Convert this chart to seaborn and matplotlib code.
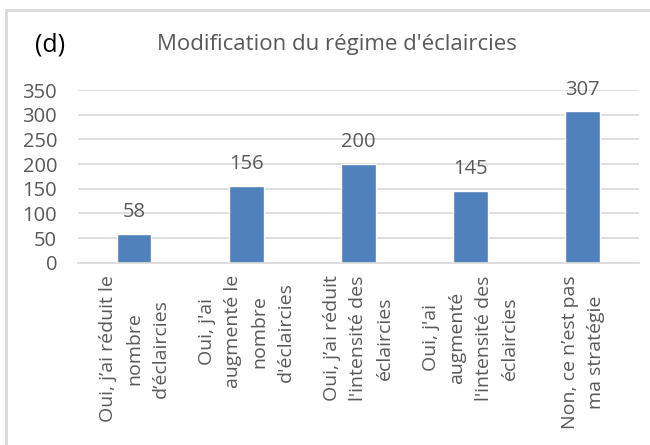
import matplotlib
matplotlib.use('Agg')
import matplotlib.pyplot as plt
import seaborn as sns
import pandas as pd
from matplotlib.lines import Line2D

categories = [
    "Oui, j’ai réduit le\nnombre\nd’éclaircies",
    "Oui, j'ai\naugmenté le\nnombre\nd'éclaircies",
    "Oui, j’ai réduit\nl'intensité des\néclaircies",
    "Oui, j'ai\naugmenté\nl'intensité des\néclaircies",
    "Non, ce n’est pas\nma stratégie",
]
counts = [58, 156, 200, 145, 307]
yticks = [0, 50, 100, 150, 200, 250, 300, 350]

df = pd.DataFrame({"cat": categories, "n": counts})

sns.set_style("white")
plt.rcParams['font.family'] = ['Open Sans', 'DejaVu Sans']
txt = '#595959'

fig = plt.figure(figsize=(6.5, 4.45), dpi=100)
ax = fig.add_axes([0.12, 0.4097, 0.863, 0.388])
sns.barplot(data=df, x="cat", y="n", color="#4f81bd", width=0.31, saturation=1, ax=ax)

ax.set_ylim(0, 350)
ax.set_yticks(yticks)
ax.yaxis.grid(True, color='#d9d9d9', linewidth=1.2)
ax.set_axisbelow(True)
for s in ['top', 'right', 'left']:
    ax.spines[s].set_visible(False)
ax.spines['bottom'].set_color('#d9d9d9')
ax.spines['bottom'].set_linewidth(1.2)
ax.tick_params(axis='both', length=0, colors=txt)
ax.tick_params(axis='y', pad=15, labelsize=14.5)
ax.set_xlabel("")
ax.set_ylabel("")
ax.set_xticks(range(len(categories)))
ax.set_xticklabels(categories, rotation=90, ha='center', va='top', multialignment='center',
                   linespacing=1.6, fontsize=14)
ax.tick_params(axis='x', pad=9)

for i, v in enumerate(counts):
    ax.annotate(str(v), (i, v), xytext=(0, 12), textcoords='offset points',
                ha='center', va='baseline', color=txt, fontsize=14.5, annotation_clip=False)

fig.text(0.518, 0.899, "Modification du régime d'éclaircies", ha='center', va='center', color=txt, fontsize=16)
fig.text(0.077, 0.899, "(d)", ha='center', va='center', color='black', fontsize=18)

# outer chart frame (top and left edges)
fig.add_artist(Line2D([0.009, 1], [0.978, 0.978], color='#d9d9d9', linewidth=2, transform=fig.transFigure))
fig.add_artist(Line2D([0.009, 0.009], [0, 0.978], color='#d9d9d9', linewidth=2, transform=fig.transFigure))

fig.savefig("out.png", dpi=100)
